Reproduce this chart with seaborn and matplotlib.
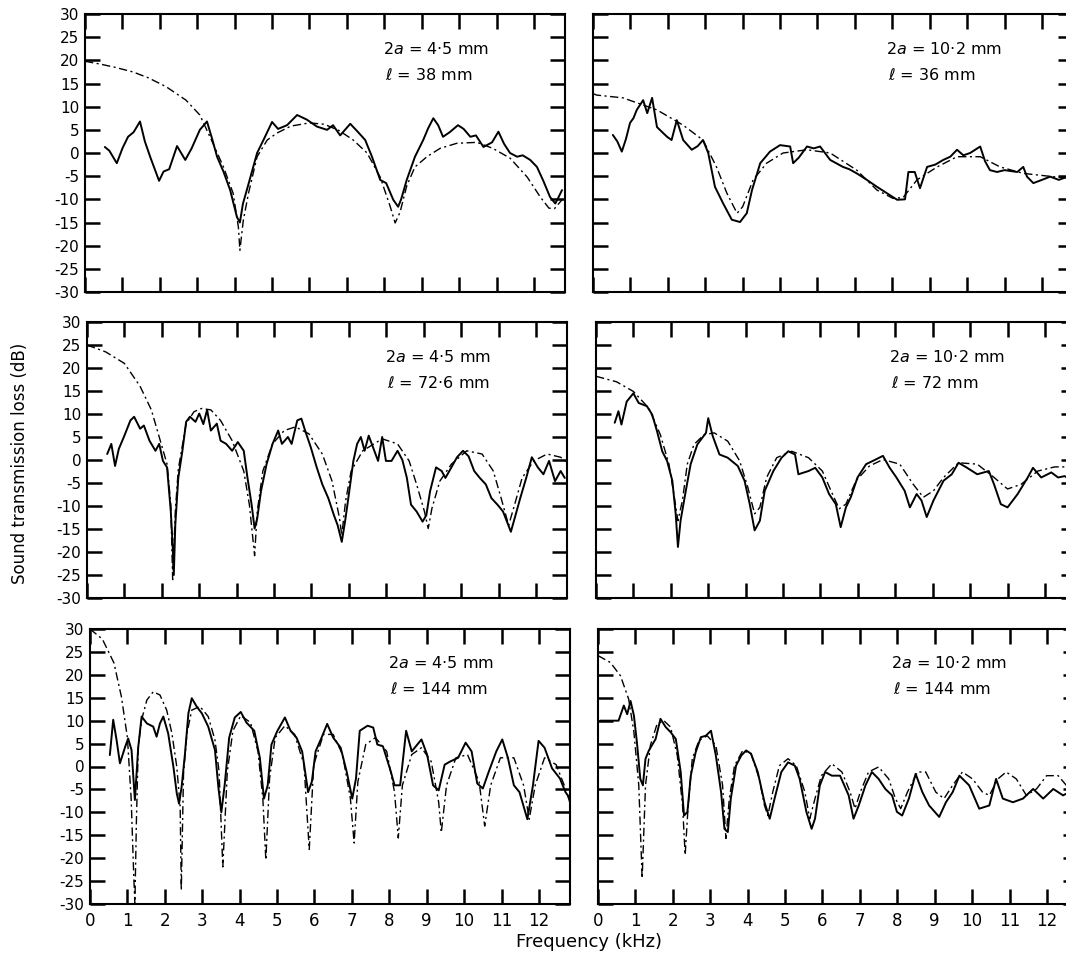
import matplotlib

matplotlib.use("Agg")

import matplotlib.pyplot as plt
import seaborn as sns

sns.set_style("white")
plt.rcParams["font.family"] = ["DejaVu Sans"]
plt.rcParams["axes.unicode_minus"] = False
plt.rcParams["mathtext.fontset"] = "dejavusans"
plt.rcParams["text.color"] = "black"
plt.rcParams["xtick.color"] = "black"
plt.rcParams["ytick.color"] = "black"
plt.rcParams["axes.labelcolor"] = "black"

# ---- top left: 2a = 4.5 mm, l = 38 mm
m1_f = [0.53, 0.65, 0.85, 1.0, 1.15, 1.3, 1.47, 1.6, 1.75, 1.98, 2.1, 2.25, 2.46, 2.68, 2.85,
        3.07, 3.26, 3.4, 3.53, 3.7, 3.88, 4.06, 4.14, 4.22, 4.37, 4.6, 4.77, 5.0, 5.16, 5.4,
        5.67, 5.93, 6.2, 6.47, 6.63, 6.82, 7.09, 7.3, 7.49, 7.67, 7.89, 8.05, 8.24, 8.37, 8.45,
        8.6, 8.82, 9.04, 9.17, 9.31, 9.44, 9.57, 9.75, 9.97, 10.12, 10.3, 10.45, 10.65, 10.88,
        11.05, 11.2, 11.36, 11.55, 11.7, 11.9, 12.08, 12.25, 12.43, 12.57, 12.66, 12.75]
m1_db = [1.3, 0.5, -2.2, 1.0, 3.5, 4.5, 6.8, 2.5, -1.0, -6.0, -4.0, -3.5, 1.5, -1.5, 1.0,
         5.0, 6.8, 3.0, -0.8, -4.0, -8.0, -13.8, -15.0, -11.0, -6.7, 0.0, 2.8, 6.7, 5.2, 6.0,
         8.2, 7.2, 5.7, 5.0, 6.0, 3.8, 6.3, 4.5, 2.8, -0.8, -5.8, -6.5, -10.1, -11.6, -10.0,
         -5.8, -0.8, 2.8, 5.3, 7.5, 6.0, 3.5, 4.5, 6.0, 5.2, 3.5, 3.8, 1.3, 2.3,
         4.6, 2.0, 0.0, -0.8, -0.5, -1.5, -3.0, -6.0, -9.5, -10.9, -9.5, -8.0]
t1_f = [0.0, 0.4, 0.8, 1.28, 1.7, 2.17, 2.7, 3.07, 3.42, 3.7, 3.96, 4.1, 4.14, 4.23, 4.37,
        4.6, 4.87, 5.13, 5.5, 6.0, 6.4, 6.8, 7.17, 7.54, 7.89, 8.16, 8.29, 8.42, 8.6, 8.82,
        9.14, 9.49, 9.94, 10.48, 10.9, 11.36, 11.82, 12.17, 12.4, 12.55, 12.75]
t1_db = [19.8, 19.2, 18.5, 17.5, 16.2, 14.3, 11.4, 8.2, 2.1, -3.0, -8.7, -16.0, -21.0, -14.6, -8.7,
         -0.8, 2.8, 4.3, 5.8, 6.5, 6.2, 4.8, 2.8, 0.0, -5.2, -11.6, -15.1, -12.8, -7.1, -3.0,
         -0.8, 1.0, 2.1, 2.3, 1.0, -1.1, -5.2, -9.5, -11.9, -12.0, -10.1]

# ---- top right: 2a = 10.2 mm, l = 36 mm
m2_f = [0.53, 0.65, 0.77, 0.88, 0.99, 1.08, 1.17, 1.34, 1.45, 1.58, 1.71, 1.85, 1.98, 2.1, 2.24,
        2.41, 2.64, 2.8, 2.94, 3.08, 3.26, 3.48, 3.71, 3.93, 4.11, 4.25, 4.47, 4.73, 5.0, 5.27,
        5.35, 5.5, 5.72, 5.9, 6.07, 6.34, 6.5, 6.68, 6.85, 7.05, 7.32, 7.59, 7.86, 8.13, 8.34,
        8.43, 8.6, 8.74, 8.93, 9.15, 9.36, 9.55, 9.73, 9.9, 10.08, 10.35, 10.48, 10.61, 10.8,
        11.0, 11.34, 11.5, 11.6, 11.77, 12.0, 12.22, 12.45, 12.65, 12.83]
m2_db = [3.9, 2.5, 0.3, 3.0, 6.5, 7.5, 9.3, 11.4, 8.6, 11.9, 5.6, 4.5, 3.5, 2.8, 7.1,
         2.8, 0.7, 1.5, 2.8, 0.0, -7.3, -10.9, -14.4, -14.9, -13.0, -8.0, -2.2, 0.3, 1.7, 1.4,
         -2.2, -1.0, 1.4, 1.0, 1.4, -1.5, -2.2, -3.0, -3.5, -4.4, -5.8, -7.3, -8.7, -10.1, -10.0,
         -4.1, -4.1, -7.6, -3.0, -2.5, -1.5, -0.8, 0.7, -0.5, 0.0, 1.4, -1.8, -3.7, -4.1,
         -3.7, -4.1, -3.0, -5.1, -6.5, -5.8, -5.1, -5.8, -5.2, -5.0]
t2_f = [0.0, 0.1, 0.8, 1.71, 2.41, 2.94, 3.3, 3.58, 3.85, 4.0, 4.28, 4.64, 5.08, 5.72, 6.34,
        7.05, 7.59, 8.02, 8.29, 8.66, 9.2, 9.73, 10.35, 10.88, 11.5, 12.4, 12.83]
t2_db = [12.8, 12.5, 11.9, 9.3, 6.0, 2.8, -3.0, -8.7, -13.0, -11.6, -5.8, -2.2, 0.0, 0.7, 0.0,
         -3.7, -8.0, -9.8, -9.6, -5.8, -3.0, -0.8, -0.8, -3.0, -4.4, -5.2, -5.5]

# ---- middle left: 2a = 4.5 mm, l = 72.6 mm
m3_f = [0.54, 0.65, 0.75, 0.85, 1.0, 1.16, 1.26, 1.42, 1.52, 1.67, 1.83, 1.93, 2.03, 2.14, 2.24,
        2.29, 2.32, 2.36, 2.44, 2.55, 2.65, 2.75, 2.9, 3.0, 3.11, 3.21, 3.31, 3.47, 3.57, 3.72,
        3.88, 4.03, 4.19, 4.29, 4.4, 4.48, 4.55, 4.65, 4.8, 4.96, 5.11, 5.21, 5.37, 5.47, 5.62,
        5.73, 5.83, 5.98, 6.14, 6.29, 6.45, 6.6, 6.7, 6.81, 6.91, 7.01, 7.12, 7.22, 7.32, 7.42,
        7.53, 7.68, 7.78, 7.89, 7.99, 8.14, 8.3, 8.43, 8.55, 8.66, 8.81, 8.97, 9.07, 9.17, 9.33,
        9.48, 9.58, 9.74, 9.89, 10.05, 10.2, 10.35, 10.5, 10.66, 10.81, 10.97, 11.12, 11.33,
        11.43, 11.58, 11.74, 11.89, 12.05, 12.2, 12.35, 12.51, 12.66, 12.77]
m3_db = [1.3, 3.5, -1.3, 2.4, 5.3, 8.6, 9.4, 6.8, 7.5, 4.2, 2.0, 3.5, -0.2, -1.6, -11.2,
         -18.6, -25.0, -14.1, -3.9, 2.0, 8.3, 9.4, 8.3, 10.1, 7.8, 10.9, 6.4, 7.9, 4.2, 3.5,
         2.0, 3.9, 2.0, -3.9, -9.7, -14.9, -12.7, -6.8, -0.9, 3.5, 6.4, 3.5, 5.0, 3.5, 8.6,
         9.0, 6.4, 2.8, -1.6, -5.3, -8.3, -12.0, -14.2, -17.8, -12.7, -6.8, -0.2, 3.5, 5.0, 2.0,
         5.3, 2.0, -0.2, 5.0, -0.2, -0.2, 2.0, 0.0, -3.9, -9.7, -11.2, -13.4, -12.0, -6.8, -1.6,
         -2.4, -3.9, -1.6, 0.6, 2.0, 0.8, -2.4, -3.9, -5.3, -8.3, -9.7, -11.2, -15.6,
         -12.7, -8.3, -3.9, 0.6, -1.6, -3.1, -0.2, -4.6, -2.4, -3.9]
t3_f = [0.0, 0.5, 1.0, 1.42, 1.72, 1.93, 2.14, 2.24, 2.29, 2.36, 2.44, 2.65, 2.86, 3.06, 3.31,
        3.57, 3.88, 4.19, 4.34, 4.48, 4.55, 4.7, 4.96, 5.27, 5.57, 5.93, 6.29, 6.55, 6.75, 6.81,
        6.91, 7.06, 7.37, 7.89, 8.3, 8.61, 8.81, 9.02, 9.12, 9.22, 9.43, 9.74, 10.15, 10.56,
        10.86, 11.07, 11.27, 11.43, 11.63, 11.94, 12.3, 12.66, 12.83]
t3_db = [25.0, 23.5, 21.0, 16.0, 10.9, 5.0, -0.9, -9.7, -26.0, -11.2, -2.0, 7.9, 10.5, 11.2, 10.9,
         8.6, 4.2, -2.4, -9.7, -20.8, -11.2, -2.4, 3.5, 6.4, 7.2, 5.7, 1.3, -4.6, -12.7, -16.4,
         -9.0, -2.4, 2.0, 4.6, 3.5, -0.2, -5.3, -11.2, -14.9, -10.5, -4.6, -0.9, 2.0, 1.3,
         -2.4, -8.3, -14.2, -9.7, -3.9, -0.2, 1.3, 0.6, -0.5]

# ---- middle right: 2a = 10.2 mm, l = 72 mm
m4_f = [0.5, 0.6, 0.68, 0.82, 1.0, 1.14, 1.36, 1.5, 1.63, 1.77, 1.9, 2.04, 2.13, 2.19, 2.26,
        2.4, 2.53, 2.71, 2.94, 3.0, 3.12, 3.3, 3.52, 3.79, 3.97, 4.11, 4.24, 4.38, 4.51, 4.74,
        4.96, 5.14, 5.32, 5.41, 5.68, 5.86, 6.05, 6.23, 6.41, 6.54, 6.68, 6.81, 6.99, 7.22, 7.4,
        7.67, 7.85, 8.03, 8.25, 8.39, 8.57, 8.7, 8.84, 9.02, 9.29, 9.51, 9.69, 9.92, 10.19, 10.5,
        10.64, 10.82, 11.0, 11.14, 11.27, 11.54, 11.68, 11.9, 12.17, 12.35, 12.53, 12.69]
m4_db = [8.1, 10.6, 7.7, 12.7, 14.5, 12.4, 11.7, 9.9, 6.3, 1.9, -0.2, -4.5, -11.7, -18.9, -13.2,
         -6.7, -0.9, 3.4, 5.9, 9.1, 5.2, 1.2, 0.5, -1.3, -4.5, -9.6, -15.3, -13.2, -6.7, -2.4,
         0.5, 1.9, 1.2, -3.1, -2.4, -1.7, -3.8, -7.4, -9.6, -14.6, -10.3, -8.1, -3.8, -0.9, -0.2,
         0.9, -1.7, -3.8, -6.7, -10.3, -7.4, -8.8, -12.4, -8.8, -4.5, -3.1, -0.6, -1.7, -3.1, -2.4,
         -5.3, -9.6, -10.3, -8.8, -7.4, -3.8, -1.7, -3.8, -2.7, -3.8, -3.5, -4.5]
t4_f = [0.0, 0.55, 1.0, 1.41, 1.72, 1.95, 2.08, 2.19, 2.31, 2.44, 2.62, 2.89, 3.16, 3.52, 3.84,
        4.06, 4.24, 4.38, 4.56, 4.83, 5.23, 5.68, 6.05, 6.32, 6.5, 6.68, 6.95, 7.31, 7.67, 8.12,
        8.48, 8.75, 9.02, 9.29, 9.69, 10.19, 10.64, 11.0, 11.36, 11.81, 12.26, 12.83]
t4_db = [18.2, 17.0, 14.9, 11.3, 5.5, -0.9, -7.4, -13.2, -8.8, -0.9, 3.4, 5.5, 5.9, 4.1, -0.2,
         -6.0, -11.7, -10.3, -3.8, 0.5, 1.9, 0.5, -2.4, -7.4, -10.6, -9.6, -4.5, -1.3, 0.1, -0.9,
         -5.3, -8.1, -6.7, -3.8, -0.6, -0.9, -3.8, -6.3, -5.3, -2.4, -1.5, -1.5]

# ---- bottom left: 2a = 4.5 mm, l = 144 mm
m5_f = [0.53, 0.62, 0.71, 0.8, 0.94, 1.02, 1.11, 1.2, 1.29, 1.38, 1.52, 1.69, 1.78, 1.87, 1.96,
        2.09, 2.23, 2.32, 2.38, 2.45, 2.54, 2.63, 2.72, 2.85, 2.99, 3.16, 3.34, 3.43, 3.51, 3.6,
        3.72, 3.87, 4.03, 4.18, 4.39, 4.54, 4.65, 4.75, 4.85, 5.01, 5.21, 5.36, 5.52, 5.67, 5.83,
        5.93, 6.03, 6.19, 6.34, 6.5, 6.7, 6.86, 7.01, 7.11, 7.21, 7.42, 7.57, 7.68, 7.83, 8.04,
        8.14, 8.29, 8.45, 8.6, 8.86, 9.01, 9.17, 9.32, 9.48, 9.63, 9.84, 10.04, 10.2, 10.35, 10.5,
        10.66, 10.86, 11.02, 11.17, 11.33, 11.48, 11.69, 11.84, 11.99, 12.15, 12.35, 12.56,
        12.71, 12.83]
m5_db = [2.5, 10.2, 5.8, 0.7, 4.3, 6.1, 3.6, -7.3, 4.3, 10.9, 9.4, 8.7, 6.5, 9.4, 10.9,
         7.2, -0.1, -5.9, -8.1, -4.4, 2.9, 11.6, 14.9, 13.1, 11.6, 8.7, 3.6, -4.4, -10.0, -4.0,
         6.3, 10.7, 11.9, 9.6, 7.8, 1.9, -7.0, -4.1, 4.8, 7.8, 10.7, 7.8, 6.3, 3.3, -5.6,
         -3.3, 3.3, 6.3, 9.3, 6.3, 4.1, -1.1, -7.0, -2.6, 7.8, 8.9, 8.5, 4.8, 4.4, -1.1,
         -4.1, -4.1, 7.8, 3.3, 5.9, 2.6, -4.1, -5.2, 0.4, 1.1, 1.9, 5.2, 3.3, -3.7, -4.8,
         -1.1, 3.3, 5.9, 1.9, -4.1, -5.6, -11.5, -4.1, 5.6, 4.1, -0.4, -2.6,
         -5.6, -7.0]
t5_f = [0.0, 0.33, 0.64, 0.84, 1.0, 1.1, 1.17, 1.2, 1.24, 1.29, 1.38, 1.52, 1.69, 1.87, 2.05,
        2.19, 2.32, 2.41, 2.44, 2.5, 2.59, 2.72, 2.94, 3.16, 3.34, 3.45, 3.55, 3.67, 3.82, 4.03,
        4.29, 4.49, 4.62, 4.7, 4.8, 4.95, 5.21, 5.47, 5.72, 5.86, 5.98, 6.24, 6.5, 6.75, 6.96,
        7.06, 7.16, 7.37, 7.63, 7.93, 8.14, 8.24, 8.35, 8.6, 8.86, 9.12, 9.32, 9.39, 9.53, 9.78,
        10.09, 10.4, 10.55, 10.71, 10.97, 11.33, 11.59, 11.74, 11.9, 12.15, 12.46, 12.71, 12.83]
t5_db = [30.0, 27.8, 22.6, 15.2, 6.3, -7.0, -24.0, -30.0, -12.0, 4.3, 10.2, 14.5, 16.3, 15.6, 12.3,
         7.2, -0.1, -8.8, -27.0, -1.5, 7.2, 12.3, 13.1, 10.9, 5.8, -1.1, -21.9, -1.1, 7.8, 11.1,
         9.6, 3.3, -7.0, -20.4, -2.6, 6.3, 8.9, 7.0, 0.4, -18.1, 0.4, 7.0, 7.0, 2.6, -7.0,
         -16.7, -3.3, 4.8, 6.3, 3.3, -5.6, -15.6, -4.1, 2.6, 4.1, 1.1, -7.8, -14.4, -4.1, 1.9,
         2.6, -3.3, -13.0, -4.1, 1.9, 1.9, -4.1, -11.5, -4.1, 1.9, 0.4, -4.8, -8.0]

# ---- bottom right: 2a = 10.2 mm, l = 144 mm
m6_f = [0.06, 0.55, 0.69, 0.78, 0.87, 0.96, 1.04, 1.13, 1.2, 1.27, 1.36, 1.54, 1.67, 1.81, 1.94,
        2.08, 2.21, 2.3, 2.39, 2.48, 2.61, 2.75, 2.88, 3.02, 3.15, 3.29, 3.38, 3.47, 3.55, 3.69,
        3.83, 3.96, 4.09, 4.27, 4.45, 4.59, 4.72, 4.9, 5.08, 5.26, 5.39, 5.57, 5.71, 5.8, 5.93,
        6.07, 6.25, 6.47, 6.7, 6.83, 6.97, 7.15, 7.32, 7.5, 7.68, 7.86, 7.99, 8.13, 8.31, 8.49,
        8.67, 8.85, 9.12, 9.3, 9.48, 9.66, 9.92, 10.19, 10.46, 10.64, 10.82, 11.09, 11.36, 11.63,
        11.9, 12.17, 12.43, 12.6]
m6_db = [10.0, 10.0, 13.3, 11.4, 14.3, 11.1, 5.3, -2.7, -4.1, 1.7, 3.5, 6.0, 10.4, 8.6, 7.5,
         6.0, -1.2, -10.7, -9.9, -2.0, 3.1, 6.4, 6.7, 7.8, 2.4, -5.6, -13.6, -14.3, -7.0, 0.2,
         2.4, 3.5, 2.8, -1.2, -7.8, -11.4, -7.0, -1.2, 0.9, 0.2, -2.7, -9.9, -13.6, -11.4, -4.1,
         -1.2, -2.0, -2.0, -6.3, -11.4, -8.5, -4.1, -1.2, -2.7, -4.9, -6.3, -9.9, -10.7, -7.0, -1.6,
         -5.6, -8.5, -11.0, -7.8, -5.6, -2.0, -4.1, -9.2, -8.5, -2.7, -7.0, -7.8, -7.0, -4.9,
         -7.0, -4.9, -6.3, -5.6]
t6_f = [0.0, 0.33, 0.6, 0.82, 0.96, 1.09, 1.18, 1.27, 1.4, 1.58, 1.76, 1.94, 2.12, 2.26, 2.33,
        2.41, 2.52, 2.7, 2.92, 3.15, 3.33, 3.42, 3.51, 3.65, 3.87, 4.09, 4.31, 4.45, 4.54, 4.67,
        4.85, 5.08, 5.3, 5.53, 5.66, 5.8, 5.97, 6.25, 6.52, 6.74, 6.87, 7.01, 7.23, 7.5, 7.77,
        7.95, 8.09, 8.27, 8.54, 8.76, 9.03, 9.25, 9.48, 9.74, 10.01, 10.28, 10.46, 10.69, 10.91,
        11.18, 11.45, 11.72, 11.99, 12.3, 12.6]
t6_db = [24.2, 22.7, 19.8, 14.7, 7.5, -4.1, -24.4, -4.1, 4.6, 9.3, 10.0, 8.6, 2.4, -8.5, -19.3,
         -8.5, 1.7, 5.7, 6.7, 4.6, -4.1, -15.7, -7.0, 0.2, 3.5, 2.8, -2.7, -8.5, -10.7, -5.6,
         0.2, 1.7, 0.2, -5.6, -11.4, -7.0, -2.0, 0.6, -1.2, -5.6, -9.2, -5.6, -1.2, -0.1, -2.7,
         -7.0, -9.2, -5.6, -1.2, -1.2, -5.6, -7.0, -4.1, -1.2, -2.7, -5.6, -6.3, -2.7, -1.2,
         -2.7, -6.3, -4.9, -2.0, -2.0, -4.9]

diameters = ["4·5", "10·2", "4·5", "10·2", "4·5", "10·2"]
lengths = ["38", "36", "72·6", "72", "144", "144"]
freq_ticks = list(range(0, 13))
db_ticks = list(range(-30, 31, 5))

W, H = 1066, 956
# panel boxes in pixels: left, top, right, bottom (scan is a little skewed)
boxes = [
    (85, 14, 565, 292), (593, 14, 1073, 292),
    (87, 322, 567, 598), (596, 322, 1076, 598),
    (90, 629, 570, 904), (598, 629, 1078, 904),
]
panels = [
    (m1_f, m1_db, t1_f, t1_db), (m2_f, m2_db, t2_f, t2_db),
    (m3_f, m3_db, t3_f, t3_db), (m4_f, m4_db, t4_f, t4_db),
    (m5_f, m5_db, t5_f, t5_db), (m6_f, m6_db, t6_f, t6_db),
]

fig = plt.figure(figsize=(W / 100, H / 100), dpi=100)
fig.patch.set_facecolor("white")

for i, ((mf, mdb, tf, tdb), (l, t, r, b)) in enumerate(zip(panels, boxes)):
    ax = fig.add_axes([l / W, 1 - b / H, (r - l) / W, (b - t) / H])
    sns.lineplot(x=tf, y=tdb, ax=ax, color="black", linewidth=1.0,
                 linestyle=(0, (6, 2.5, 1.5, 2.5)), errorbar=None)
    sns.lineplot(x=mf, y=mdb, ax=ax, color="black", linewidth=1.4, errorbar=None)

    ax.set_xlim(0, 12.83)
    ax.set_ylim(-30, 30)
    ax.set_xticks(freq_ticks)
    ax.set_yticks(db_ticks)
    ax.set_xlabel("")
    ax.set_ylabel("")
    ax.tick_params(direction="in", length=11, width=1.8, color="black",
                   top=True, right=True, bottom=True, left=True, pad=4,
                   labelleft=(i % 2 == 0), labelbottom=(i >= 4))
    ax.tick_params(axis="y", labelsize=11)
    ax.tick_params(axis="x", labelsize=12, pad=6)
    for sp in ax.spines.values():
        sp.set_visible(True)
        sp.set_linewidth(1.5)
        sp.set_color("black")

    tx = 0.62 if i % 2 == 0 else 0.61
    ax.text(tx, 0.875, f"2$a$ = {diameters[i]} mm", transform=ax.transAxes,
            fontsize=11.5, va="center", ha="left")
    ax.text(tx + 0.005, 0.78, rf"$\ell$ = {lengths[i]} mm", transform=ax.transAxes,
            fontsize=11.5, va="center", ha="left")

fig.text(20 / W, 1 - 463 / H, "Sound transmission loss (dB)", rotation=90,
         ha="center", va="center", fontsize=12)
fig.text(589 / W, 1 - 942 / H, "Frequency (kHz)", ha="center", va="center", fontsize=13)

fig.savefig("out.png", dpi=100)
plt.close(fig)
